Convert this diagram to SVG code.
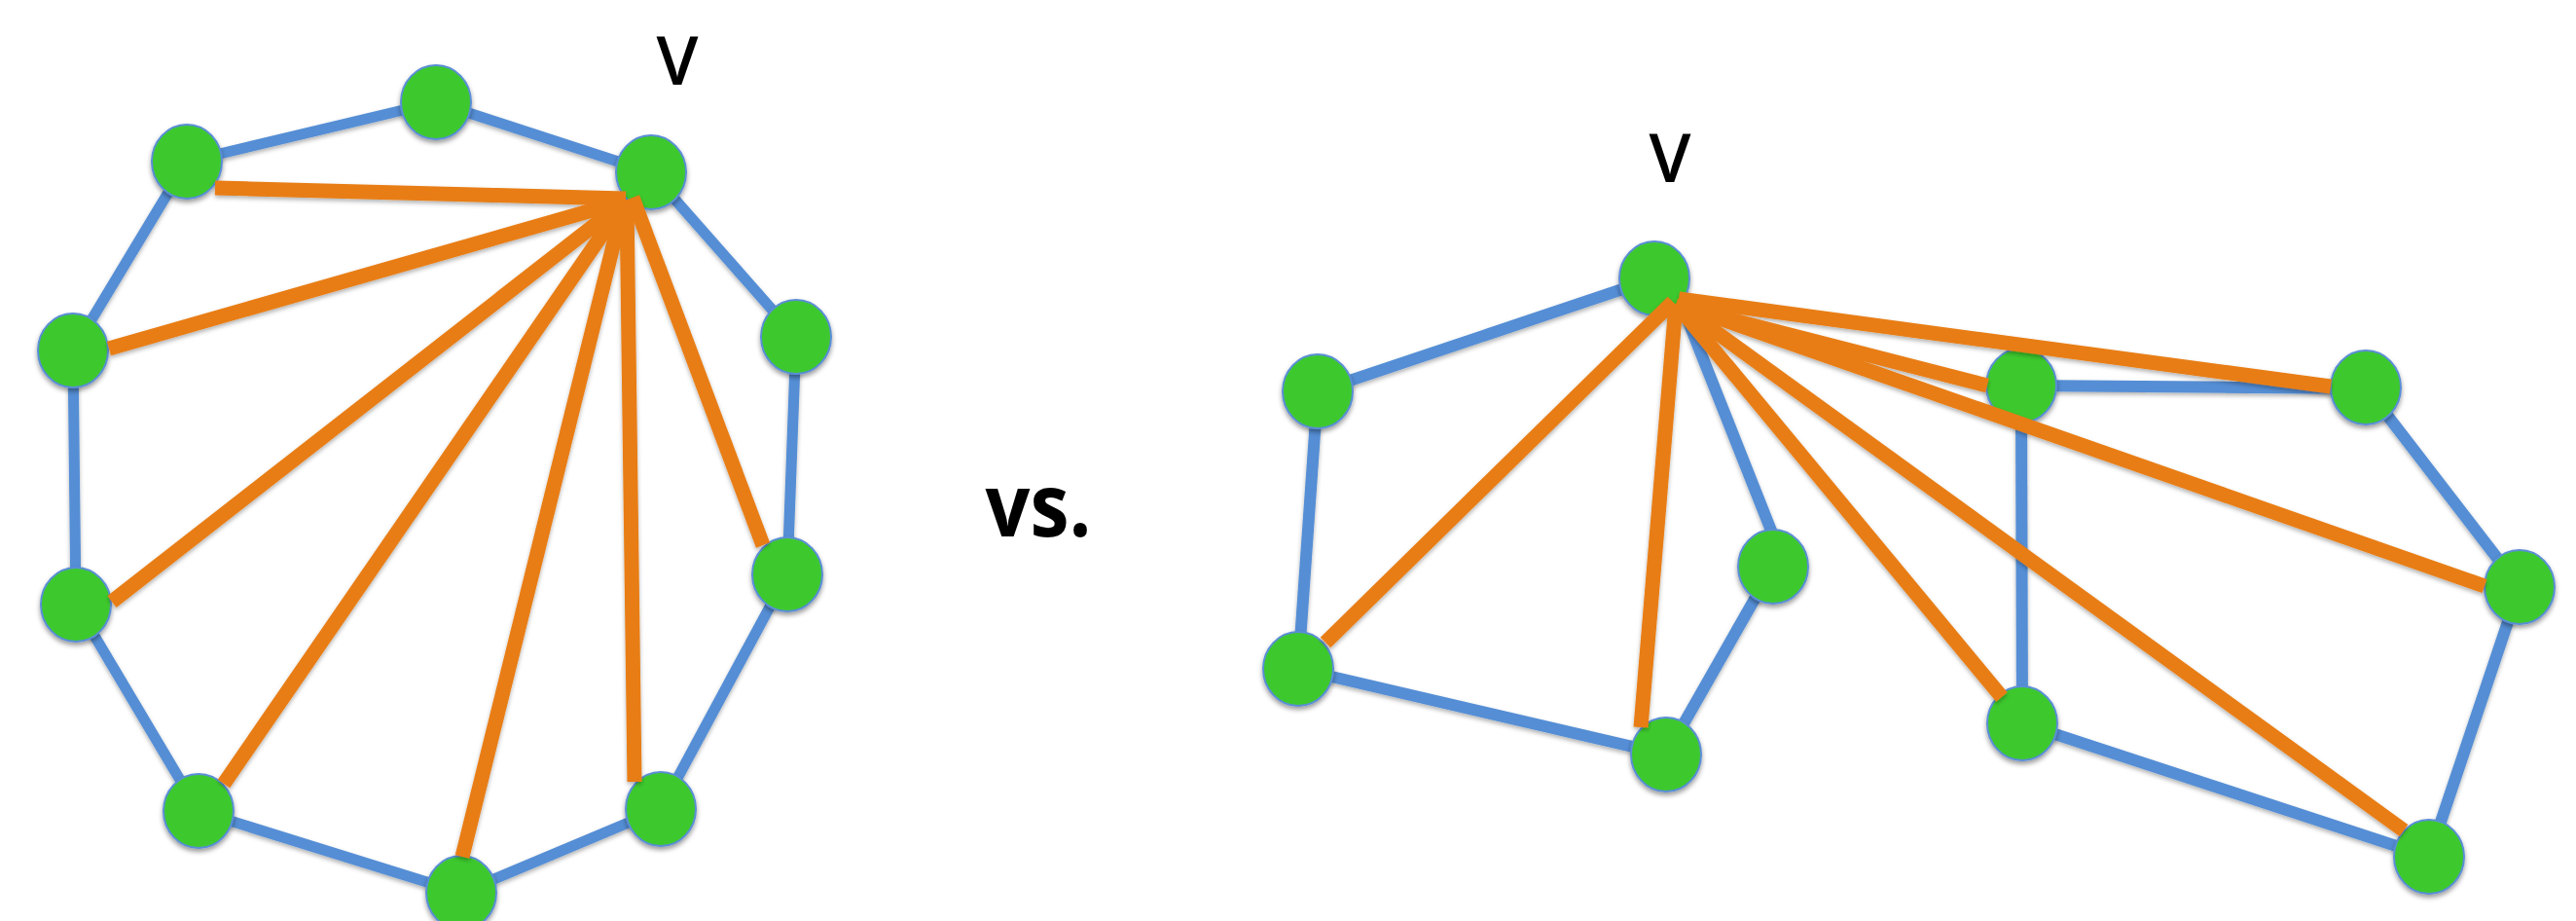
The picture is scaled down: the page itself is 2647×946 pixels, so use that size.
<svg xmlns="http://www.w3.org/2000/svg" width="2647" height="946" viewBox="0 0 2647 946">
  <defs>
    <filter id="shadow" x="-20%" y="-20%" width="140%" height="140%">
      <feDropShadow dx="0" dy="3" stdDeviation="2.5" flood-color="#000" flood-opacity="0.4"/>
    </filter>
    <filter id="lineShadow" x="-5%" y="-5%" width="110%" height="110%">
      <feDropShadow dx="0" dy="2.5" stdDeviation="2" flood-color="#000" flood-opacity="0.3"/>
    </filter>
  </defs>
  <style>
    .node { fill: #3EC92E; stroke: #5A8ED6; stroke-width: 2; filter: url(#shadow); }
    .edge { stroke: #558ED5; stroke-width: 11; stroke-linecap: butt; fill: none; }
    .edge-r { stroke-width: 12; }
    .vedge { stroke: #E87D13; stroke-width: 15; stroke-linecap: butt; fill: none; }
    .label { font-family: "Open Sans", "Liberation Sans", sans-serif; fill: #000; text-anchor: middle; }
  </style>
  <rect width="2647" height="946" fill="#ffffff"/>

  <!-- graph edges (drawn beneath the nodes) -->
  <g id="connectors" filter="url(#lineShadow)">
    <!-- left cycle -->
    <line class="edge" x1="192" y1="166" x2="448" y2="105"/>
    <line class="edge" x1="448" y1="105" x2="669" y2="177"/>
    <line class="edge" x1="669" y1="177" x2="818" y2="346"/>
    <line class="edge" x1="818" y1="346" x2="809" y2="590"/>
    <line class="edge" x1="809" y1="590" x2="679" y2="831"/>
    <line class="edge" x1="679" y1="831" x2="474" y2="917"/>
    <line class="edge" x1="474" y1="917" x2="204" y2="833"/>
    <line class="edge" x1="204" y1="833" x2="78" y2="621"/>
    <line class="edge" x1="78" y1="621" x2="75" y2="360"/>
    <line class="edge" x1="75" y1="360" x2="192" y2="166"/>
    <!-- right graph -->
    <line class="edge edge-r" x1="1354" y1="402" x2="1700" y2="286"/>
    <line class="edge edge-r" x1="1354" y1="402" x2="1334" y2="687"/>
    <line class="edge edge-r" x1="1334" y1="687" x2="1712" y2="775"/>
    <line class="edge edge-r" x1="1712" y1="775" x2="1822" y2="582"/>
    <line class="edge edge-r" x1="1730" y1="318" x2="1822" y2="550"/>
    <line class="edge edge-r" x1="2077" y1="396" x2="2431" y2="399"/>
    <line class="edge edge-r" x1="2077" y1="396" x2="2078" y2="743"/>
    <line class="edge edge-r" x1="2078" y1="743" x2="2496" y2="880"/>
    <line class="edge edge-r" x1="2431" y1="398" x2="2589" y2="603"/>
    <line class="edge edge-r" x1="2589" y1="603" x2="2496" y2="880"/>
  </g>

  <!-- left graph nodes -->
  <g id="L-a"><ellipse class="node" cx="192" cy="166" rx="36" ry="38"/></g>
  <g id="L-b"><ellipse class="node" cx="448" cy="105" rx="36" ry="38"/></g>
  <g id="L-v"><ellipse class="node" cx="669" cy="177" rx="36" ry="38"/></g>
  <g id="L-c"><ellipse class="node" cx="818" cy="346" rx="36" ry="38"/></g>
  <g id="L-d"><ellipse class="node" cx="809" cy="590" rx="36" ry="38"/></g>
  <g id="L-e"><ellipse class="node" cx="679" cy="831" rx="36" ry="38"/></g>
  <g id="L-f"><ellipse class="node" cx="474" cy="917" rx="36" ry="38"/></g>
  <g id="L-g"><ellipse class="node" cx="204" cy="833" rx="36" ry="38"/></g>
  <g id="L-h"><ellipse class="node" cx="78" cy="621" rx="36" ry="38"/></g>
  <g id="L-i"><ellipse class="node" cx="75" cy="360" rx="36" ry="38"/></g>

  <!-- right graph nodes -->
  <g id="R-a"><ellipse class="node" cx="1354" cy="402" rx="36" ry="38"/></g>
  <g id="R-v"><ellipse class="node" cx="1700" cy="286" rx="36" ry="38"/></g>
  <g id="R-b"><ellipse class="node" cx="1334" cy="687" rx="36" ry="38"/></g>
  <g id="R-c"><ellipse class="node" cx="1712" cy="775" rx="36" ry="38"/></g>
  <g id="R-d"><ellipse class="node" cx="1822" cy="582" rx="36" ry="38"/></g>
  <g id="R-e"><ellipse class="node" cx="2077" cy="396" rx="36" ry="38"/></g>
  <g id="R-f"><ellipse class="node" cx="2078" cy="743" rx="36" ry="38"/></g>
  <g id="R-g"><ellipse class="node" cx="2431" cy="398" rx="36" ry="38"/></g>
  <g id="R-h"><ellipse class="node" cx="2589" cy="603" rx="36" ry="38"/></g>
  <g id="R-i"><ellipse class="node" cx="2496" cy="880" rx="36" ry="38"/></g>

  <!-- edges incident to v (drawn over the nodes) -->
  <g id="v-connectors" filter="url(#lineShadow)">
    <line class="vedge" x1="643" y1="204" x2="221" y2="193"/>
    <line class="vedge" x1="640" y1="207" x2="112" y2="358"/>
    <line class="vedge" x1="638" y1="210" x2="115" y2="618"/>
    <line class="vedge" x1="640" y1="210" x2="230" y2="805"/>
    <line class="vedge" x1="641" y1="208" x2="475" y2="880"/>
    <line class="vedge" x1="644" y1="205" x2="652" y2="803"/>
    <line class="vedge" x1="650" y1="203" x2="784" y2="560"/>

    <line class="vedge" x1="1719" y1="310" x2="1362" y2="660"/>
    <line class="vedge" x1="1722" y1="312" x2="1686" y2="747"/>
    <line class="vedge" x1="1722" y1="312" x2="2057" y2="716"/>
    <line class="vedge" x1="1723" y1="312" x2="2470" y2="853"/>
    <line class="vedge" x1="1724" y1="312" x2="2553" y2="602"/>
    <line class="vedge" x1="1722" y1="314" x2="2042" y2="396"/>
    <line class="vedge" x1="1725" y1="307" x2="2395" y2="397"/>
  </g>

  <!-- labels -->
  <text class="label" x="696" y="87" font-size="69" font-weight="600">V</text>
  <text class="label" x="1716" y="187" font-size="69" font-weight="600">V</text>
  <text class="label" x="1067" y="551" font-size="90" font-weight="700" textLength="109" lengthAdjust="spacingAndGlyphs">vs.</text>
</svg>
